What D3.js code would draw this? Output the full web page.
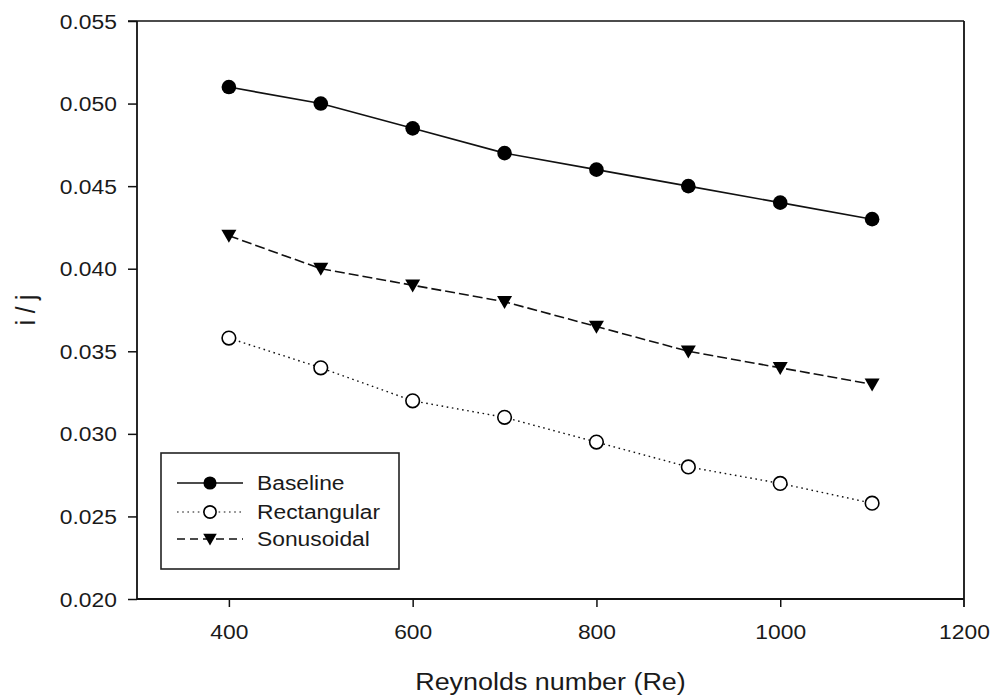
<!DOCTYPE html>
<html>
<head>
<meta charset="utf-8">
<script src="https://cdn.jsdelivr.net/npm/d3@7"></script>
<style>
  html, body { margin: 0; padding: 0; background: #fff; }
  svg text { font-family: "Liberation Sans", Arial, sans-serif; fill: #1a1a1a; }
</style>
</head>
<body>
<svg id="chart" width="993" height="697"></svg>
<script>
const reynolds = [400, 500, 600, 700, 800, 900, 1000, 1100];
const baseline = [0.0510, 0.0500, 0.0485, 0.0470, 0.0460, 0.0450, 0.0440, 0.0430];
const rectangular = [0.0358, 0.0340, 0.0320, 0.0310, 0.0295, 0.0280, 0.0270, 0.0258];
const sinusoidal = [0.0420, 0.0400, 0.0390, 0.0380, 0.0365, 0.0350, 0.0340, 0.0330];
const seriesNames = ["Baseline", "Rectangular", "Sonusoidal"];
const xTicks = [400, 600, 800, 1000, 1200];
const yTicks = [0.020, 0.025, 0.030, 0.035, 0.040, 0.045, 0.050, 0.055];
const xLabel = "Reynolds number (Re)";
const yLabel = "i / j";

const SX = 1.17; // horizontal stretch of the reference text
const svg = d3.select("#chart");
const L = 137, R = 964, T = 21, B = 599;
const x = d3.scaleLinear().domain([300, 1200]).range([L, R]);
const y = d3.scaleLinear().domain([0.020, 0.055]).range([B, T]);

// frame top & right
svg.append("line").attr("x1", L - 9).attr("x2", R).attr("y1", T).attr("y2", T)
  .attr("stroke", "#111").attr("stroke-width", 1.6);
svg.append("line").attr("x1", R).attr("x2", R).attr("y1", T).attr("y2", B + 8)
  .attr("stroke", "#111").attr("stroke-width", 1.8);

// axes
const yAxis = svg.append("g").attr("transform", `translate(${L},0)`)
  .call(d3.axisLeft(y).tickValues(yTicks).tickFormat(d3.format(".3f")).tickSize(9).tickPadding(8.2));
const xAxis = svg.append("g").attr("transform", `translate(0,${B})`)
  .call(d3.axisBottom(x).tickValues(xTicks).tickFormat(d3.format("d")).tickSize(8).tickPadding(8));
[yAxis, xAxis].forEach(g => {
  g.select(".domain").attr("stroke", "#111").attr("stroke-width", 1.8);
  g.selectAll(".tick line").attr("stroke", "#111").attr("stroke-width", 1.5);
  g.selectAll("text").attr("font-size", 19.5).attr("fill", "#1a1a1a")
    .style("font-family", '"Liberation Sans", Arial, sans-serif');
});
yAxis.select(".domain").attr("d", `M0,${B}V${T}`);
xAxis.select(".domain").attr("d", `M${L},0H${R}`);
yAxis.selectAll(".tick text").attr("transform", `scale(${SX},1)`).attr("dy", "0.36em");
xAxis.selectAll(".tick text").attr("transform", `scale(${SX},1)`).attr("y", 26).attr("dy", "0.71em");
xAxis.selectAll(".tick").filter(d => d === 1200).select("line").remove();

// axis titles
svg.append("text").attr("transform", `translate(${(L + R) / 2},690) scale(${SX},1)`)
  .attr("text-anchor", "middle").attr("font-size", 23).text(xLabel);
svg.append("text").attr("transform", `translate(35,${(T + B) / 2}) rotate(-90) scale(1,${SX})`)
  .attr("text-anchor", "middle").attr("font-size", 24).text(yLabel);

// series
const styles = [
  { name: seriesNames[0], vals: baseline, dash: null, marker: "filled" },
  { name: seriesNames[1], vals: rectangular, dash: "1.6,3.6", marker: "open" },
  { name: seriesNames[2], vals: sinusoidal, dash: "10,4", marker: "tri" }
];
const line = d3.line().x(d => x(d[0])).y(d => y(d[1]));

function drawMarker(g, kind, cx, cy, scale) {
  const s = scale || 1;
  if (kind === "filled") {
    g.append("circle").attr("cx", cx).attr("cy", cy).attr("r", 7.3 * s).attr("fill", "#000");
  } else if (kind === "open") {
    g.append("circle").attr("cx", cx).attr("cy", cy).attr("r", 6.8 * s)
      .attr("fill", "#fff").attr("stroke", "#000").attr("stroke-width", 1.6);
  } else {
    const w = 7.5 * s, h = 13 * s;
    g.append("path").attr("d", `M${cx - w},${cy - h * 0.45}L${cx + w},${cy - h * 0.45}L${cx},${cy + h * 0.55}Z`)
      .attr("fill", "#000");
  }
}

styles.forEach(st => {
  const pts = reynolds.map((r, i) => [r, st.vals[i]]);
  svg.append("path").datum(pts).attr("d", line).attr("fill", "none")
    .attr("stroke", "#111").attr("stroke-width", st.dash === "1.6,3.6" ? 1.4 : 1.6)
    .attr("stroke-dasharray", st.dash);
  const g = svg.append("g");
  pts.forEach(p => drawMarker(g, st.marker, x(p[0]), y(p[1])));
});

// legend
const lg = svg.append("g");
lg.append("rect").attr("x", 161).attr("y", 453).attr("width", 238).attr("height", 116)
  .attr("fill", "#fff").attr("stroke", "#222").attr("stroke-width", 1.6);
const rowsY = [483, 512, 539];
styles.forEach((st, i) => {
  const ry = rowsY[i];
  lg.append("line").attr("x1", 177).attr("x2", 243).attr("y1", ry).attr("y2", ry)
    .attr("stroke", "#111").attr("stroke-width", st.dash === "1.6,3.6" ? 1.2 : 1.5)
    .attr("stroke-dasharray", st.dash === "10,4" ? "8,5" : st.dash);
  drawMarker(lg, st.marker, 210, ry, 0.9);
  lg.append("text").attr("transform", `translate(257,${ry}) scale(${SX},1)`)
    .attr("dy", "0.36em").attr("font-size", 19.5).text(st.name);
});
</script>
</body>
</html>
